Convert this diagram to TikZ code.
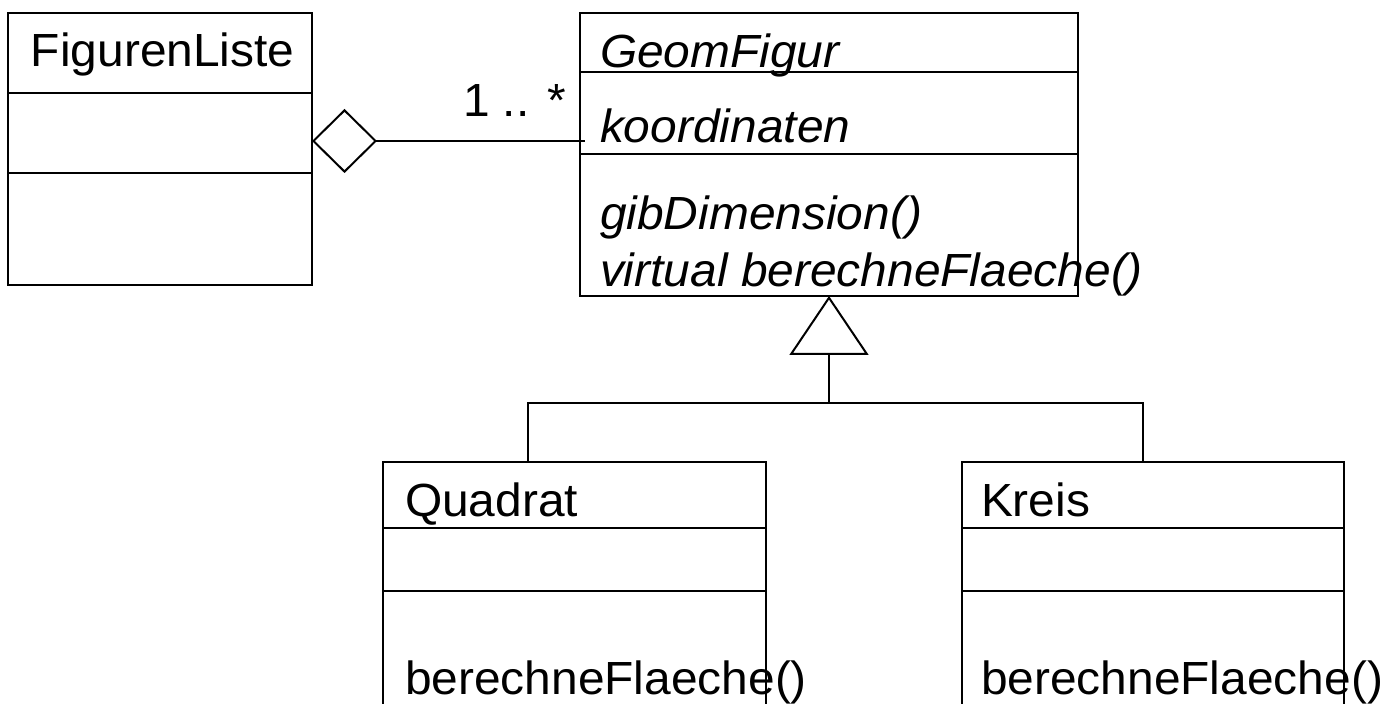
\documentclass[tikz,border=0pt]{standalone}
\usepackage{fontspec}
\setmainfont[FakeStretch=1.03]{Liberation Sans}
\usetikzlibrary{arrows.meta}
\begin{document}
\begin{tikzpicture}[x=0.5pt,y=-0.5pt,
  line width=1pt,
  classbox/.style={draw,line width=1pt,inner sep=0pt,outer sep=0pt},
  lbl/.style={anchor=base west,inner sep=0pt,outer sep=0pt,font=\fontsize{23.25pt}{28pt}\selectfont},
  ilbl/.style={lbl,font=\fontsize{23.25pt}{28pt}\selectfont\itshape},
  conn/.style={line width=1pt}
]
\path[use as bounding box] (0,0) rectangle (1396,704);
\clip (0,0) rectangle (1396,704);
% class boxes
\node[classbox,minimum width=152pt,minimum height=136pt] (FL) at (160,149) {};
\node[classbox,minimum width=249pt,minimum height=141.5pt] (GF) at (829,154.5) {};
\node[classbox,minimum width=191.5pt,minimum height=150pt] (Q) at (574.5,612) {};
\node[classbox,minimum width=191pt,minimum height=150pt] (K) at (1152.5,612) {};
% compartment dividers
\draw (FL.west |- 0,93) -- (FL.east |- 0,93);
\draw (FL.west |- 0,173) -- (FL.east |- 0,173);
\draw (GF.west |- 0,72) -- (GF.east |- 0,72);
\draw (GF.west |- 0,154) -- (GF.east |- 0,154);
\draw (Q.west |- 0,528) -- (Q.east |- 0,528);
\draw (Q.west |- 0,591) -- (Q.east |- 0,591);
\draw (K.west |- 0,528) -- (K.east |- 0,528);
\draw (K.west |- 0,591) -- (K.east |- 0,591);
% texts
\node[lbl] (tFL) at (31,67) {FigurenListe};
\node[ilbl] (tGF) at (600,68) {GeomFigur};
\node[ilbl] (tGFa) at (600,143) {koordinaten};
\node[ilbl] (tGFm1) at (600,230) {gibDimension()};
\node[ilbl] (tGFm2) at (600,287) {virtual berechneFlaeche()};
\node[lbl] (tQ) at (405,517) {Quadrat};
\node[lbl] (tQm) at (405,694) {berechneFlaeche()};
\node[lbl] (tK) at (981,517) {Kreis};
\node[lbl] (tKm) at (981,694) {berechneFlaeche()};
\node[lbl] (mult) at (463,117) {1 .. *};
% aggregation
\coordinate (aggEnd) at (585,141);
\draw[conn,{Diamond[open,length=32.5pt,width=32pt,line width=1pt]}-] (FL.east |- aggEnd) -- (aggEnd);
% generalization
\coordinate (junc) at (829,403);
\draw[conn,-{Triangle[open,length=29.5pt,width=39.5pt,line width=1pt]}] (junc) -- (GF.south);
\draw[conn] (Q.north -| 528,0) |- (junc);
\draw[conn] (K.north -| 1143,0) |- (junc);
\end{tikzpicture}
\end{document}
